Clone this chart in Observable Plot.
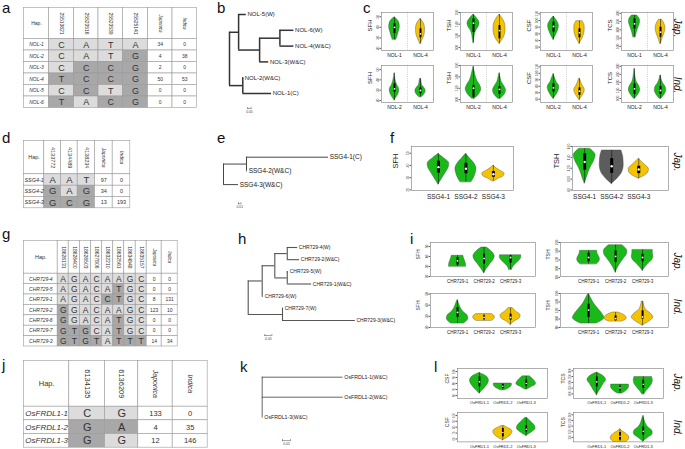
<!DOCTYPE html>
<html><head><meta charset="utf-8">
<script src="https://cdn.jsdelivr.net/npm/d3@7"></script>
<script src="https://cdn.jsdelivr.net/npm/@observablehq/plot@0.6"></script>
<style>
body{margin:0;background:#fff;}
#page{position:relative;width:685px;height:449px;overflow:hidden;font-family:"Liberation Sans",Arial,sans-serif;background:#fff;}
#page svg text{font-family:"Liberation Sans",Arial,sans-serif;}
.plab{position:absolute;font-size:15px;line-height:1;color:#111;}
.grp{position:absolute;font-size:10px;font-style:italic;line-height:1;white-space:nowrap;transform:translate(-50%,-50%) rotate(90deg);color:#111;}
</style></head><body><div id="page"></div>
<script>
// ---------------- DATA ----------------
// a
const aSnps = ["25513621","25523516","25523539","25525141"];
const aHaps = ["NOL-1","NOL-2","NOL-3","NOL-4","NOL-5","NOL-6"];
const aAlleles = [["C","A","T","A"],["C","A","T","G"],["C","C","C","G"],["T","C","C","G"],["C","C","T","G"],["T","A","C","G"]];
const aJap = [34,4,2,50,0,0];
const aInd = [0,38,0,53,0,0];
// d
const dSnps = ["4133772","4134489","4138234"];
const dHaps = ["SSG4-1","SSG4-2","SSG4-3"];
const dAlleles = [["A","A","T"],["G","A","G"],["G","C","G"]];
const dJap = [97,34,13];
const dInd = [0,0,193];
// g
const gSnps = ["18626131","18626400","18626503","18627806","18632210","18632561","18634848","18635157"];
const gHaps = ["CHR729-4","CHR729-5","CHR729-1","CHR729-2","CHR729-6","CHR729-7","CHR729-3"];
const gAlleles = [
  ["A","G","A","C","A","A","G","C"],
  ["A","G","A","C","A","T","G","C"],
  ["A","G","A","C","C","T","G","C"],
  ["G","G","A","C","A","A","G","C"],
  ["G","G","A","C","A","T","G","C"],
  ["G","T","G","C","A","T","G","C"],
  ["G","T","G","T","A","T","T","T"]];
const gJap = [0,0,8,123,0,0,14];
const gInd = [0,0,131,10,0,0,34];
// j
const jSnps = ["6134135","6136209"];
const jHaps = ["OsFRDL1-1","OsFRDL1-2","OsFRDL1-3"];
const jAlleles = [["C","G"],["G","A"],["G","G"]];
const jJap = [133,4,12];
const jInd = [0,35,146];

// trees: [name, branch length, children]
const bTree = ["",0,[["",0.13,[["NOL-5(W)",0.11],["",0.30,[["",0.29,[["NOL-6(W)",0.20],["NOL-4(W&C)",0.20]]],["NOL-3(W&C)",0.13]]]]],["",0.19,[["NOL-2(W&C)",0.01],["NOL-1(C)",0.41]]]]];
const eTree = ["",0,[["",0.092,[["SSG4-1(C)",0.328],["SSG4-2(W&C)",0.004]]],["SSG4-3(W&C)",0.06]]];
const hTree = ["",0,[["",0.1,[["",0.09,[["",0.089,[["CHR729-4(W)",0.074],["CHR729-2(W&C)",0.088]]],["",0.089,[["CHR729-5(W)",0.009],["CHR729-1(W&C)",0.174]]]]],["CHR729-6(W)",0.009]]],["",0.245,[["CHR729-7(W)",0.007],["CHR729-3(W&C)",0.52]]]]];
const kTree = ["",0,[["OsFRDL1-1(W&C)",0.506],["OsFRDL1-2(W&C)",0.506],["OsFRDL1-3(W&C)",0.006]]];
const treeScales = {b:[0.05,"0.05"], e:[0.01,"0.01"], h:[0.05,"0.05"], k:[0.05,"0.05"]};

// violins: [category, group, min, max, q1, median, q3, half-widths bottom->top]
const cJapCats = ["NOL-1","NOL-4"];
const cIndCats = ["NOL-2","NOL-4"];
const cJap = {
  SFH: [["NOL-1","G",28.1,49.5,34.1,40,43.3,[0.07,0.12,0.16,0.2,0.2,0.15,0]],["NOL-4","Y",24.3,48,30,33.8,38.5,[0.02,0.08,0.15,0.17,0.17,0.12,0]]],
  TSH: [["NOL-1","G",107.5,156.6,126,141.7,149,[0,0.03,0.05,0.1,0.2,0.23,0.14,0]],["NOL-4","Y",106.5,156.6,115,129,137.7,[0,0.12,0.2,0.23,0.23,0.2,0.12,0]]],
  CSF: [["NOL-1","G",71,106,82.5,91,97.5,[0,0.08,0.15,0.2,0.2,0.12,0]],["NOL-4","Y",65,99,74,81.5,87.5,[0,0.08,0.15,0.19,0.2,0.19,0.12]]],
  TCS: [["NOL-1","G",155.5,287,206,236.5,267,[0.05,0.08,0.12,0.17,0.21,0.2,0.1]],["NOL-4","Y",115.5,261,155,186,216,[0.02,0.06,0.12,0.17,0.19,0.15,0.06]]]
};
const cInd = {
  SFH: [["NOL-2","G",20,46.5,28,31.3,36.2,[0,0.1,0.17,0.18,0.1,0.05,0.02,0]],["NOL-4","G",23.2,41,26.5,29.7,32.3,[0.05,0.16,0.2,0.15,0.06,0.04,0.02]]],
  TSH: [["NOL-2","G",101.5,158,104,120,125,[0.05,0.22,0.3,0.25,0.14,0.08,0.04,0]],["NOL-4","G",101.5,146.5,109,118,123,[0.05,0.2,0.25,0.18,0.08,0.04,0]]],
  CSF: [["NOL-2","G",60.7,99,70.9,77.6,83.8,[0,0.12,0.2,0.22,0.12,0.06,0]],["NOL-4","Y",59,91.5,65.8,72.4,77.6,[0,0.1,0.18,0.2,0.12,0.06,0.02]]],
  TCS: [["NOL-2","G",98,284.6,125,160,191,[0.02,0.15,0.22,0.18,0.08,0.04,0.02,0]],["NOL-4","G",98,243,125,149.6,174.5,[0.03,0.15,0.22,0.2,0.1,0.04,0.01]]]
};
const fCats = ["SSG4-1","SSG4-2","SSG4-3"];
const fJap = {
  SFH: [["SSG4-1","G",24.4,49.5,33.7,38.6,43.5,[0,0.1,0.2,0.3,0.38,0.38,0.2,0]],["SSG4-2","G",26.3,49.5,33.2,37.3,41.8,[0.2,0.3,0.36,0.38,0.3,0.15,0]],["SSG4-3","Y",27.1,40,30.4,32.8,35,[0.05,0.2,0.38,0.4,0.25,0.1,0]]],
  TSH: [["SSG4-1","G",92,155.8,116.4,131.5,146.7,[0,0.08,0.15,0.25,0.36,0.4,0.2]],["SSG4-2","D",91,152.7,110.4,123.6,137.6,[0,0.22,0.38,0.44,0.44,0.42,0.36]],["SSG4-3","Y",101,137.6,110,117.6,123.6,[0,0.25,0.36,0.37,0.25,0.12,0]]]
};
const iCats = ["CHR729-1","CHR729-2","CHR729-3"];
const iJap = {
  SFH: [["CHR729-1","G",29.7,40.7,31.3,35.7,39,[0.32,0.32,0.3,0.27,0.24,0.22]],["CHR729-2","G",23.3,49,32.3,38,42.3,[0,0.1,0.22,0.35,0.4,0.3,0.1]],["CHR729-3","G",26.7,41.3,33.3,39,40.7,[0.06,0.1,0.2,0.32,0.4,0.4]]],
  TSH: [["CHR729-1","G",110,141,115.7,125.6,135.5,[0.3,0.4,0.42,0.38,0.33,0.32]],["CHR729-2","G",91,153.8,114,128,141,[0,0.08,0.18,0.3,0.42,0.42,0.25]],["CHR729-3","G",95,143,115.7,125.6,133,[0,0.1,0.22,0.35,0.4,0.38,0.38]]]
};
const iInd = {
  SFH: [["CHR729-1","G",23.6,44.6,29,33.5,38,[0.25,0.4,0.38,0.22,0.12,0.06,0]],["CHR729-2","Y",26,32,26.9,29,30.5,[0.3,0.4,0.4,0.3]],["CHR729-3","Y",22.4,37.4,26.6,29,32,[0,0.15,0.35,0.37,0.2,0.08]]],
  TSH: [["CHR729-1","G",89.4,160,103.5,121,135,[0.3,0.58,0.5,0.35,0.2,0.1,0]],["CHR729-2","Y",94,115.3,95.8,101,107.5,[0.25,0.4,0.4,0.3,0.1]],["CHR729-3","Y",84.7,141,99.7,105,119.3,[0,0.25,0.4,0.3,0.12,0.06,0.03]]]
};
const lCats = ["OsFRD1-1","OsFRD1-2","OsFRD1-3"];
const lJap = {
  CSF: [["OsFRD1-1","G",63.3,97.7,74.3,82.7,91,[0,0.15,0.28,0.38,0.4,0.3,0]],["OsFRD1-2","G",68.8,80,71.7,75.5,78.3,[0.1,0.25,0.35,0.39,0.38]],["OsFRD1-3","G",70,92,75.5,80,85.5,[0.05,0.25,0.42,0.38,0.28,0.15]]],
  TCS: [["OsFRD1-1","G",88.6,285,160.5,204,247,[0,0.1,0.2,0.3,0.4,0.3,0]],["OsFRD1-2","G",103,181,126,152,166.6,[0.1,0.25,0.35,0.39,0.38]],["OsFRD1-3","G",97,247,146.7,184,218.6,[0.05,0.15,0.28,0.38,0.41,0.38]]]
};
const lInd = {
  CSF: [["OsFRD1-2","Y",57.9,82.2,63.5,71,77.8,[0,0.2,0.33,0.4,0.4,0.25,0.05]],["OsFRD1-3","G",65.2,95.8,72,76.6,82.2,[0,0.25,0.4,0.35,0.2,0.05]]],
  TCS: [["OsFRD1-2","Y",62,172,75,110,143,[0.3,0.38,0.4,0.35,0.25,0.1,0]],["OsFRD1-3","G",62,290,119,154.6,192.6,[0,0.2,0.4,0.38,0.2,0.1,0.05,0]]]
};
const panelLetters = ["a","b","c","d","e","f","g","h","i","j","k","l"];
const popLabels = ["Jap.","Ind."];

// ---------------- STYLE / LAYOUT ----------------
const GREEN = "#19b919", YELLOW = "#f5c400", DARK = "#5c5c5c";
const LIGHT = "#dcdcdc", DARKCELL = "#a8a8a8";
const FONT = "Liberation Sans, Arial, Helvetica, sans-serif";
const page = document.getElementById("page");
function place(el, left, top) {
  el.style.position = "absolute"; el.style.left = left + "px"; el.style.top = top + "px";
  page.appendChild(el);
}
const baseStyle = {fontFamily: FONT, background: "transparent", overflow: "visible", color: "#222"};

function drawTable(L, snps, haps, alleles, jap, ind) {
  const ncol = snps.length + 3, nrow = haps.length;
  const x0 = L.edges[0], y0 = L.rows[0];
  const W = L.edges[ncol] - x0 + 1, H = L.rows[nrow + 1] - y0 + 1;
  const cells = [];
  for (let c = 0; c < ncol; c++) cells.push({c, r: 0, fill: "#ffffff"});
  haps.forEach((h, r) => {
    cells.push({c: 0, r: r + 1, fill: "#ffffff"});
    alleles[r].forEach((a, k) => cells.push({c: k + 1, r: r + 1, fill: a === alleles[0][k] ? LIGHT : DARKCELL}));
    cells.push({c: ncol - 2, r: r + 1, fill: "#ffffff"}, {c: ncol - 1, r: r + 1, fill: "#ffffff"});
  });
  const alleleT = alleles.flatMap((row, r) => row.map((a, k) => ({c: k + 1, r: r + 1, t: a})));
  const countT = haps.flatMap((h, r) => [{c: ncol - 2, r: r + 1, t: String(jap[r])}, {c: ncol - 1, r: r + 1, t: String(ind[r])}]);
  const nameT = haps.map((h, r) => ({c: 0, r: r + 1, t: h}));
  const snpT = snps.map((s, k) => ({c: k + 1, r: 0, t: s}));
  const popT = [{c: ncol - 2, r: 0, t: "Japonica"}, {c: ncol - 1, r: 0, t: "Indica"}];
  const X = d => d.c + 0.5, Y = d => d.r + 0.5;
  const svg = Plot.plot({
    width: W, height: H, margin: 0, style: baseStyle,
    x: {type: "linear", domain: d3.range(ncol + 1), range: L.edges.map(e => e - x0 + 0.5), axis: null},
    y: {type: "linear", domain: d3.range(nrow + 2), range: L.rows.map(e => e - y0 + 0.5), axis: null},
    color: {type: "identity"},
    marks: [
      Plot.rect(cells, {x1: "c", x2: d => d.c + 1, y1: "r", y2: d => d.r + 1, fill: "fill", stroke: "#9a9a9a", strokeWidth: 0.6}),
      Plot.text([{c: 0, r: 0, t: "Hap."}], {x: X, y: Y, text: "t", fontSize: L.fs.hap, fontFamily: FONT, fill: "#333"}),
      Plot.text(snpT, {x: X, y: Y, text: "t", rotate: 90, fontSize: L.fs.head, fontFamily: FONT, fill: "#333"}),
      Plot.text(popT, {x: X, y: Y, text: "t", rotate: 90, fontSize: L.fs.pop, fontFamily: FONT, fontStyle: "italic", fill: "#333"}),
      Plot.text(nameT, {x: X, y: Y, text: "t", fontSize: L.fs.name, fontFamily: FONT, fontStyle: "italic", fill: "#333"}),
      Plot.text(alleleT, {x: X, y: Y, text: "t", fontSize: L.fs.allele, fontFamily: FONT, fill: "#333"}),
      Plot.text(countT, {x: X, y: Y, text: "t", fontSize: L.fs.num, fontFamily: FONT, fill: "#333"})
    ]
  });
  place(svg, x0 - 0.5, y0 - 0.5);
}

function layoutTree(root) {
  const h = [], v = [], leaves = []; let li = 0;
  function rec(node, px) {
    const [name, len, kids] = node; const x = px + len; let y;
    if (kids) {
      const ys = kids.map(k => rec(k, x));
      y = (ys[0] + ys[ys.length - 1]) / 2;
      v.push({x, y1: ys[0], y2: ys[ys.length - 1]});
    } else { y = li++; leaves.push({x, y, name}); }
    if (len > 0) h.push({y, x1: px, x2: x});
    return y;
  }
  rec(root, 0);
  return {h, v, leaves};
}

function drawTree(T, tree, scale) {
  const {h, v, leaves} = layoutTree(tree);
  const [sv, slab] = scale;
  const sb = T.sb, tk = 1.1 / T.dy;
  const svg = Plot.plot({
    width: T.w, height: T.h, margin: 0, style: baseStyle,
    x: {domain: [0, 1], range: [T.rootX - T.left, T.rootX - T.left + T.ppu], axis: null},
    y: {domain: [0, 1], range: [T.y0 - T.top, T.y0 - T.top + T.dy], axis: null},
    marks: [
      Plot.ruleY(h, {y: "y", x1: "x1", x2: "x2", stroke: T.color, strokeWidth: T.sw}),
      Plot.ruleX(v, {x: "x", y1: "y1", y2: "y2", stroke: T.color, strokeWidth: T.sw}),
      Plot.text(leaves, {x: "x", y: "y", text: "name", textAnchor: "start", dx: 1.2, fontSize: T.fs, fontFamily: FONT, fill: "#222"}),
      Plot.ruleY([sb], {y: "y", x1: "x", x2: d => d.x + sv, stroke: "#444", strokeWidth: 0.5}),
      Plot.ruleX([sb.x, sb.x + sv], {x: d => d, y1: sb.y - tk, y2: sb.y + tk, stroke: "#444", strokeWidth: 0.5}),
      Plot.text([sb], {x: d => d.x + sv / 2, y: "y", text: () => slab, dy: 3.6, fontSize: 3.4, fontFamily: FONT, fill: "#444"})
    ]
  });
  place(svg, T.left, T.top);
}

function drawViolins(V, cats, rows) {
  const mL = 24, mR = 2, mT = 2, mB = 12;
  const vs = rows.map(([c, g, lo, hi, q1, med, q3, w], id) => ({c, i: cats.indexOf(c), g, lo, hi, q1, med, q3, w, id}));
  const pts = vs.flatMap(v => v.w.map((w, k) => ({id: v.id, g: v.g, y: v.lo + (v.hi - v.lo) * k / (v.w.length - 1), x1: v.i - w, x2: v.i + w})));
  const marks = [];
  if (V.divider) marks.push(Plot.ruleX(d3.range(cats.length - 1), {x: d => d + 0.5, stroke: "#9a9a9a", strokeWidth: 0.5, strokeDasharray: "1,1.2"}));
  marks.push(
    Plot.areaX(pts, {y: "y", x1: "x1", x2: "x2", z: "id", fill: "g", stroke: "#4a4a4a", strokeWidth: 0.4, curve: "catmull-rom"}),
    Plot.ruleX(vs, {x: "i", y1: "lo", y2: "hi", stroke: "#000", strokeWidth: 0.5}),
    Plot.ruleX(vs, {x: "i", y1: "q1", y2: "q3", stroke: "#000", strokeWidth: V.box}),
    Plot.dot(vs, {x: "i", y: "med", r: V.med, fill: "#fff"}),
    Plot.frame({stroke: "#7a7a7a", strokeWidth: 0.6}),
    Plot.axisY({ticks: V.ticks, tickSize: 1.5, tickPadding: 0.8, fontSize: V.tfs, fontFamily: FONT, tickRotate: -90, label: null, stroke: "#555", fill: "#444"}),
    Plot.axisX({ticks: d3.range(cats.length), tickFormat: i => cats[i], tickSize: 0, tickPadding: V.cpad, fontSize: V.cfs, fontFamily: FONT, label: null, fill: "#222"}),
    Plot.text([V.ylab], {frameAnchor: "left", text: d => d, rotate: -90, dx: -V.yoff, fontSize: V.yfs, fontFamily: FONT, fill: "#222"})
  );
  const svg = Plot.plot({
    width: V.w + mL + mR, height: V.h + mT + mB,
    marginLeft: mL, marginRight: mR, marginTop: mT, marginBottom: mB,
    style: baseStyle,
    x: {domain: V.xdom, axis: null}, y: {domain: V.ydom, axis: null},
    color: {domain: ["G", "Y", "D"], range: [GREEN, YELLOW, DARK]},
    marks
  });
  place(svg, V.x - mL, V.y - mT);
}

// ---------------- DRAW ----------------
drawTable({edges: [23,48,73,97.5,122,147,171.5,196], rows: [7,38,49.5,61,72.5,84,95.5,107],
  fs: {allele: 9, name: 5, num: 5, head: 5, hap: 5, pop: 4.5}}, aSnps, aHaps, aAlleles, aJap, aInd);
drawTable({edges: [23,43.3,60,76.7,94,111.7,129.3], rows: [140,173.3,184.7,196,207.3],
  fs: {allele: 9.5, name: 5.5, num: 5.5, head: 5.5, hap: 5.5, pop: 5}}, dSnps, dHaps, dAlleles, dJap, dInd);
drawTable({edges: [23,56.7,67.7,79,90,101,112.3,123.3,134.7,145.7,160.7,176.7], rows: [240,272.7,283.1,293.5,303.9,314.3,324.7,335.1,345.5],
  fs: {allele: 8.5, name: 5, num: 5, head: 5, hap: 5.5, pop: 4.5}}, gSnps, gHaps, gAlleles, gJap, gInd);
drawTable({edges: [23,68.3,104,137.3,171.7,206.7], rows: [360,405.7,419.3,433,446.7],
  fs: {allele: 11, name: 8, num: 7.5, head: 7.5, hap: 7.5, pop: 7}}, jSnps, jHaps, jAlleles, jJap, jInd);

drawTree({left: 222, top: 0, w: 160, h: 120, rootX: 229, ppu: 70, y0: 14, dy: 15.8, fs: 6, sw: 1.5, color: "#333", sb: {x: 0.26, y: 5.95}}, bTree, treeScales.b);
drawTree({left: 215, top: 148, w: 160, h: 62, rootX: 223, ppu: 250, y0: 156.7, dy: 13.7, fs: 6.5, sw: 0.9, color: "#333", sb: {x: 0.06, y: 3.4}}, eTree, treeScales.e);
drawTree({left: 240, top: 238, w: 162, h: 106, rootX: 247.7, ppu: 140, y0: 247, dy: 12.17, fs: 5, sw: 1.1, color: "#555", sb: {x: 0.119, y: 7.23}}, hTree, treeScales.h);
drawTree({left: 255, top: 368, w: 125, h: 81, rootX: 261.7, ppu: 160, y0: 376.7, dy: 20, fs: 5.2, sw: 0.9, color: "#555", sb: {x: 0.127, y: 3.17}}, kTree, treeScales.k);

// c
const cX = {SFH: 381, TSH: 460, CSF: 540, TCS: 621};
const cDom = {SFH: [18,54], TSH: [95,160], CSF: [55,112], TCS: [75,305]};
const cTicks = {SFH: [20,30,40,50], TSH: [100,120,140,160], CSF: [60,70,80,90,100,110], TCS: [100,150,200,250,300]};
for (const t of Object.keys(cJap)) {
  const base = {x: cX[t], w: 52, xdom: [-0.5,1.5], ydom: cDom[t], ticks: cTicks[t], ylab: t, yoff: 11, yfs: 6, tfs: 3.3, cfs: 5, cpad: 2.5, box: 2, med: 0.9, divider: true};
  drawViolins({...base, y: 12, h: 38}, cJapCats, cJap[t]);
  drawViolins({...base, y: 65, h: 37}, cIndCats, cInd[t]);
}
// f
drawViolins({x: 411, y: 146, w: 102, h: 44, xdom: [-0.98,2.73], ydom: [19.5,55.5], ticks: [20,30,40,50], ylab: "SFH", yoff: 16, yfs: 7.5, tfs: 3.5, cfs: 6.5, cpad: 3.5, box: 3, med: 1.2}, fCats, fJap.SFH);
drawViolins({x: 572, y: 146, w: 96, h: 44, xdom: [-0.45,3.1], ydom: [79,160], ticks: [80,100,120,140,160], ylab: "TSH", yoff: 16, yfs: 7.5, tfs: 3.5, cfs: 6.5, cpad: 3.5, box: 3, med: 1.2}, fCats, fJap.TSH);
// i
const iBase = {tfs: 3.2, cfs: 4.5, cpad: 3.2, yoff: 12, yfs: 5, box: 2, med: 0.9};
drawViolins({...iBase, x: 430, y: 242, w: 105, h: 34, xdom: [-1.02,2.94], ydom: [20,54], ticks: [20,30,40,50], ylab: "SFH"}, iCats, iJap.SFH);
drawViolins({...iBase, x: 560, y: 242, w: 108, h: 34, xdom: [-1.04,2.96], ydom: [82,160], ticks: [80,100,120,140,160], ylab: "TSH"}, iCats, iJap.TSH);
drawViolins({...iBase, x: 430, y: 292.7, w: 105, h: 34, xdom: [-1.02,2.94], ydom: [20,50.5], ticks: [20,30,40,50], ylab: "SFH"}, iCats, iInd.SFH);
drawViolins({...iBase, x: 560, y: 292.7, w: 108, h: 34, xdom: [-1.04,2.96], ydom: [80,160], ticks: [80,100,120,140,160], ylab: "TSH"}, iCats, iInd.TSH);
// l
const lBase = {tfs: 3, cfs: 4, cpad: 3, yoff: 10, yfs: 5, box: 1.8, med: 0.8};
drawViolins({...lBase, x: 457, y: 368.3, w: 90, h: 30, xdom: [-0.94,2.91], ydom: [55,105], ticks: [60,70,80,90,100], ylab: "CSF"}, lCats, lJap.CSF);
drawViolins({...lBase, x: 573, y: 368.3, w: 90, h: 30, xdom: [-1,2.87], ydom: [60,320], ticks: [100,150,200,250,300], ylab: "TCS"}, lCats, lJap.TCS);
drawViolins({...lBase, x: 457, y: 412.3, w: 90, h: 29.4, xdom: [-0.94,2.91], ydom: [55,105], ticks: [60,70,80,90,100], ylab: "CSF"}, lCats, lInd.CSF);
drawViolins({...lBase, x: 573, y: 412.3, w: 90, h: 29.4, xdom: [-1,2.87], ydom: [60,320], ticks: [100,150,200,250,300], ylab: "TCS"}, lCats, lInd.TCS);

// letters and population tags
const letterPos = [[2,13],[217,13],[363,13],[2,143],[217,143],[390,143],[2,239],[238,244],[410,244],[2,370],[240,372],[434,372]];
panelLetters.forEach((t, k) => {
  const d = document.createElement("div"); d.className = "plab"; d.textContent = t;
  d.style.left = letterPos[k][0] + "px"; d.style.top = (letterPos[k][1] - 12.7) + "px"; page.appendChild(d);
});
const popPos = [[0,677,28],[1,677,85],[0,677,162],[0,677,262],[1,677,307],[0,677,383],[1,677,428]];
popPos.forEach(([k, x, y]) => {
  const d = document.createElement("div"); d.className = "grp"; d.textContent = popLabels[k];
  d.style.left = x + "px"; d.style.top = y + "px"; page.appendChild(d);
});
</script></body></html>
